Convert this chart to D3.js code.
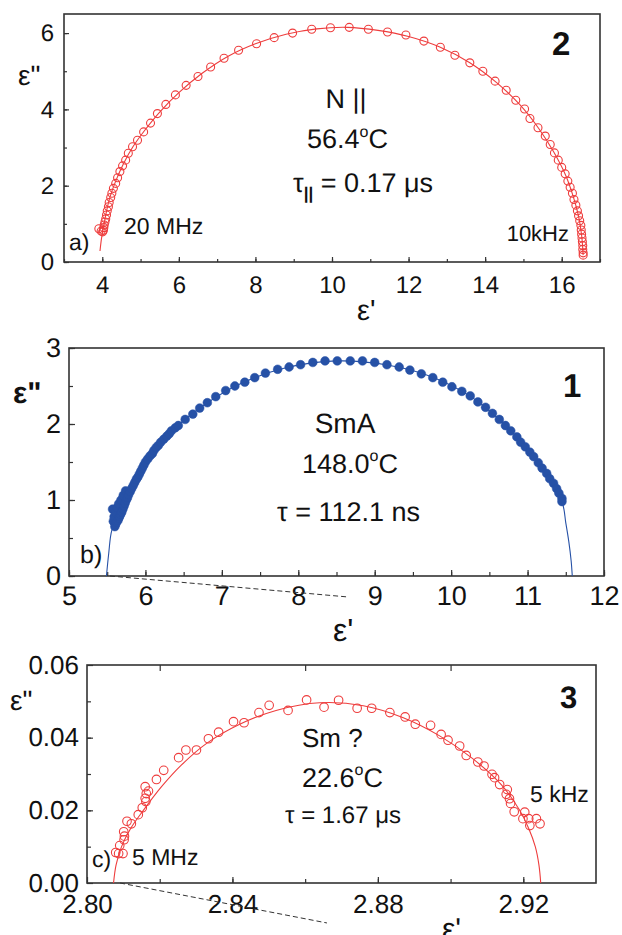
<!DOCTYPE html>
<html>
<head>
<meta charset="utf-8">
<script src="https://cdn.jsdelivr.net/npm/d3@7"></script>
<style>
  html, body { margin: 0; padding: 0; background: #fff; }
  svg { display: block; font-family: "Liberation Sans", Arial, Helvetica, sans-serif; text-rendering: geometricPrecision; }
</style>
</head>
<body>
<svg id="fig" width="622" height="935"></svg>
<script>
// ---------- Panel a: nematic phase (N ||), 56.4 °C ----------
const nematicPoints = [
  [3.91,0.87],[3.97,0.81],[4.01,0.79],[4.03,0.83],[4.04,0.90],[4.05,0.97],[4.07,1.05],[4.09,1.13],
  [4.11,1.23],[4.13,1.34],[4.16,1.45],[4.18,1.56],[4.22,1.69],[4.25,1.80],[4.29,1.93],[4.35,2.06],
  [4.40,2.21],[4.46,2.37],[4.53,2.52],[4.61,2.67],[4.68,2.85],[4.79,3.02],[4.92,3.19],[5.08,3.41],
  [5.26,3.64],[5.44,3.89],[5.66,4.13],[5.91,4.38],[6.19,4.63],[6.50,4.86],[6.83,5.11],[7.18,5.34],
  [7.56,5.55],[8.03,5.72],[8.49,5.88],[8.97,6.00],[9.47,6.10],[9.96,6.14],[10.45,6.15],[10.95,6.10],
  [11.45,6.03],[11.93,5.95],[12.40,5.79],[12.83,5.63],[13.21,5.42],[13.60,5.22],[13.94,5.00],[14.26,4.74],
  [14.55,4.50],[14.80,4.24],[15.03,4.01],[15.17,3.76],[15.38,3.52],[15.57,3.30],[15.70,3.08],[15.81,2.86],
  [15.91,2.67],[16.00,2.48],[16.09,2.31],[16.16,2.12],[16.22,1.96],[16.28,1.80],[16.32,1.64],[16.37,1.49],
  [16.41,1.34],[16.44,1.21],[16.47,1.08],[16.50,0.96],[16.51,0.84],[16.52,0.73],[16.53,0.63],[16.54,0.53],
  [16.55,0.43],[16.55,0.33],[16.56,0.24],[16.56,0.18]
];
const nematicFit = [
  [3.94,0.29],[3.98,0.62],[4.03,0.90],[4.10,1.28],[4.20,1.70],[4.35,2.12],[4.55,2.57],[4.80,3.02],
  [5.10,3.44],[5.50,3.93],[6.00,4.44],[6.60,4.94],[7.30,5.40],[8.00,5.72],[8.80,5.97],[9.60,6.11],
  [10.40,6.15],[11.20,6.07],[12.00,5.91],[12.80,5.64],[13.60,5.22],[14.30,4.70],[14.90,4.13],[15.40,3.50],
  [15.80,2.87],[16.10,2.28],[16.30,1.72],[16.44,1.20],[16.52,0.70],[16.56,0.18]
];

// ---------- Panel b: smectic A phase, 148.0 °C ----------
const smecticAPoints = [
  [5.57,0.88],[5.58,0.72],[5.59,0.78],[5.61,0.84],[5.63,0.90],[5.65,0.95],[5.68,1.00],[5.71,1.06],[5.74,1.12],
  [5.60,0.65],[5.61,0.68],[5.62,0.71],[5.64,0.73],[5.65,0.76],[5.66,0.78],[5.675,0.81],
  [5.69,0.84],[5.705,0.88],[5.72,0.92],[5.735,0.96],[5.75,1.00],[5.765,1.03],[5.78,1.07],[5.80,1.11],
  [5.82,1.15],[5.84,1.19],[5.86,1.23],[5.88,1.27],[5.90,1.30],[5.92,1.34],[5.94,1.38],[5.96,1.42],
  [5.98,1.46],[6.00,1.50],[6.03,1.54],[6.06,1.58],[6.09,1.61],[6.11,1.65],[6.14,1.69],[6.17,1.72],
  [6.20,1.76],[6.24,1.80],[6.28,1.84],[6.31,1.87],[6.34,1.91],[6.39,1.95],[6.43,1.98],[6.52,2.06],
  [6.62,2.13],[6.71,2.21],[6.81,2.28],[6.92,2.36],[7.05,2.44],[7.17,2.50],[7.30,2.55],[7.43,2.61],
  [7.57,2.67],[7.73,2.72],[7.88,2.75],[8.03,2.78],[8.19,2.81],[8.35,2.83],[8.51,2.83],[8.68,2.83],
  [8.84,2.83],[9.00,2.81],[9.16,2.78],[9.32,2.75],[9.46,2.71],[9.61,2.66],[9.76,2.61],[9.89,2.55],
  [10.01,2.49],[10.14,2.43],[10.25,2.37],[10.35,2.29],[10.45,2.22],[10.54,2.14],[10.63,2.06],[10.71,1.98],
  [10.78,1.91],[10.86,1.83],[10.91,1.76],[10.97,1.70],[11.03,1.63],[11.08,1.57],[11.14,1.49],[11.19,1.42],
  [11.25,1.35],[11.29,1.28],[11.34,1.22],[11.38,1.15],[11.41,1.09],[11.45,1.02],[11.45,0.98]
];
const smecticAFit = [
  [5.49,0.00],[5.52,0.30],[5.56,0.60],[5.65,0.80],[5.80,1.10],[6.00,1.48],[6.30,1.86],[6.70,2.20],
  [7.20,2.51],[7.80,2.73],[8.50,2.83],[9.20,2.77],[9.80,2.60],[10.30,2.33],[10.80,1.89],[11.20,1.41],
  [11.45,0.98],[11.50,0.70],[11.54,0.45],[11.57,0.20],[11.585,0.00]
];
const smecticATilt = [[5.536,0],[8.65,-0.276]];

// ---------- Panel c: Sm ? phase, 22.6 °C ----------
const smecticXPoints = [
  [2.8079,0.0084],[2.8087,0.0081],[2.8099,0.0081],[2.8090,0.0103],[2.8102,0.0119],[2.8103,0.0129],
  [2.8101,0.0141],[2.8110,0.0170],[2.8122,0.0163],[2.8141,0.0188],[2.8152,0.0207],[2.8162,0.0224],
  [2.8160,0.0233],[2.8163,0.0246],[2.8169,0.0253],[2.8160,0.0265],[2.8191,0.0285],[2.8211,0.0310],
  [2.8252,0.0345],[2.8272,0.0366],[2.8301,0.0366],[2.8334,0.0397],[2.8362,0.0415],[2.8403,0.0444],
  [2.8432,0.0441],[2.8473,0.0469],[2.8501,0.0489],[2.8553,0.0475],[2.8604,0.0504],[2.8652,0.0484],
  [2.8692,0.0503],[2.8743,0.0481],[2.8783,0.0481],[2.8833,0.0469],[2.8875,0.0457],[2.8903,0.0437],
  [2.8945,0.0434],[2.8974,0.0409],[2.8993,0.0393],[2.9025,0.0377],[2.9043,0.0351],[2.9075,0.0333],
  [2.9092,0.0322],[2.9114,0.0299],[2.9121,0.0290],[2.9135,0.0271],[2.9156,0.0257],[2.9153,0.0244],
  [2.9162,0.0232],[2.9165,0.0219],[2.9175,0.0196],[2.9204,0.0195],[2.9199,0.0177],[2.9215,0.0177],
  [2.9218,0.0158],[2.9236,0.0177],[2.9246,0.0163]
];
const smecticXFit = [
  [2.8073,0.0000],[2.8080,0.0050],[2.8095,0.0100],[2.8120,0.0150],[2.8155,0.0200],[2.8205,0.0265],
  [2.8260,0.0325],[2.8330,0.0385],[2.8420,0.0437],[2.8520,0.0475],[2.8640,0.0496],[2.8760,0.0488],
  [2.8870,0.0455],[2.8970,0.0405],[2.9060,0.0343],[2.9140,0.0270],[2.9190,0.0200],[2.9215,0.0150],
  [2.9233,0.0100],[2.9243,0.0050],[2.9248,0.0000]
];
const smecticXTilt = [[2.8091,0],[2.866,-0.0110]];

// ---------- Axis ticks ----------
const ticksA = { xMajor: [4,6,8,10,12,14,16], xMinor: d3.range(3,18,1), yMajor: [0,2,4,6], yMinor: d3.range(0,7,1) };
const ticksB = { xMajor: [5,6,7,8,9,10,11,12], xMinor: d3.range(5,12.01,0.5), yMajor: [0,1,2,3], yMinor: d3.range(0,3.01,0.5) };
const ticksC = { xMajor: [2.80,2.84,2.88,2.92], xMinor: [2.82,2.84,2.86,2.88,2.90,2.92], xTop: [2.82,2.86,2.90],
                 yMajor: [0,0.02,0.04,0.06], yMinor: [0.01,0.02,0.03,0.04,0.05] };

const RED = "#ee3d3d";
const BLUE = "#2651a6";
const INK = "#111";
const FRAME = "#333";

const svg = d3.select("#fig");

function drawPanel(cfg) {
  const x = d3.scaleLinear().domain(cfg.xDomain).range([cfg.left, cfg.right]);
  const y = d3.scaleLinear().domain(cfg.yDomain).range([cfg.bottom, cfg.top]);
  const g = svg.append("g");
  const clean = sel => sel.select(".domain").remove();

  // minor ticks (inward)
  g.append("g").attr("transform", `translate(0,${cfg.bottom})`)
    .call(d3.axisBottom(x).tickValues(cfg.ticks.xMinor).tickSize(-cfg.minorLen).tickFormat(""))
    .call(clean);
  g.append("g").attr("transform", `translate(${cfg.left},0)`)
    .call(d3.axisLeft(y).tickValues(cfg.ticks.yMinor).tickSize(-cfg.minorLen).tickFormat(""))
    .call(clean);
  if (cfg.ticks.xTop) {
    g.append("g").attr("transform", `translate(0,${cfg.top})`)
      .call(d3.axisTop(x).tickValues(cfg.ticks.xTop).tickSize(-cfg.majorLen).tickFormat(""))
      .call(clean);
  }
  // major ticks + labels
  const xa = g.append("g").attr("transform", `translate(0,${cfg.bottom})`)
    .call(d3.axisBottom(x).tickValues(cfg.ticks.xMajor).tickSize(-cfg.majorLen)
      .tickPadding(cfg.xPad).tickFormat(cfg.fmt))
    .call(clean);
  const ya = g.append("g").attr("transform", `translate(${cfg.left},0)`)
    .call(d3.axisLeft(y).tickValues(cfg.ticks.yMajor).tickSize(-cfg.majorLen)
      .tickPadding(cfg.yPad).tickFormat(cfg.fmt))
    .call(clean);
  [xa, ya].forEach(a => {
    a.selectAll("text").attr("fill", INK).style("font-size", cfg.labelSize + "px")
      .style("font-family", '"Liberation Sans", Arial, sans-serif');
  });
  g.selectAll(".tick line").attr("stroke", FRAME).attr("stroke-width", 1.2);

  // frame
  g.append("rect").attr("x", cfg.left).attr("y", cfg.top)
    .attr("width", cfg.right - cfg.left).attr("height", cfg.bottom - cfg.top)
    .attr("fill", "none").attr("stroke", FRAME).attr("stroke-width", 1.6);

  // tilt line (below the axis, not clipped)
  if (cfg.tilt) {
    g.append("path").datum(cfg.tilt)
      .attr("d", d3.line().x(d => x(d[0])).y(d => y(d[1])))
      .attr("fill", "none").attr("stroke", "#333").attr("stroke-width", 1)
      .attr("stroke-dasharray", "5,3");
  }

  // fit curve
  g.append("path").datum(cfg.fit)
    .attr("d", d3.line().x(d => x(d[0])).y(d => y(d[1])).curve(d3.curveCatmullRom.alpha(0.5)))
    .attr("fill", "none").attr("stroke", cfg.color).attr("stroke-width", 1.1);

  // data points
  g.append("g").selectAll("circle").data(cfg.points).join("circle")
    .attr("cx", d => x(d[0])).attr("cy", d => y(d[1])).attr("r", cfg.r)
    .attr("fill", cfg.filled ? cfg.color : "none")
    .attr("stroke", cfg.color).attr("stroke-width", cfg.filled ? 0.5 : 1.1);

  return { x, y, g };
}

drawPanel({
  left: 64, right: 600, top: 14, bottom: 262,
  xDomain: [3, 17], yDomain: [0, 6.5], ticks: ticksA,
  fmt: d3.format("d"), labelSize: 24, xPad: 14, yPad: 10, majorLen: 5, minorLen: 3,
  points: nematicPoints, fit: nematicFit, color: RED, filled: false, r: 4
});
drawPanel({
  left: 69, right: 604, top: 348, bottom: 576,
  xDomain: [5, 12], yDomain: [0, 3], ticks: ticksB,
  fmt: d3.format("d"), labelSize: 27, xPad: 10, yPad: 8, majorLen: 6, minorLen: 4,
  points: smecticAPoints, fit: smecticAFit, tilt: smecticATilt, color: BLUE, filled: true, r: 4.4
});
drawPanel({
  left: 87, right: 596, top: 665, bottom: 883,
  xDomain: [2.80, 2.94], yDomain: [0, 0.06], ticks: ticksC,
  fmt: d3.format(".2f"), labelSize: 26, xPad: 12, yPad: 8, majorLen: 6, minorLen: 4,
  points: smecticXPoints, fit: smecticXFit, tilt: smecticXTilt, color: RED, filled: false, r: 4.3
});

// ---------- Text ----------
function label(x, y, parts, opts = {}) {
  const t = svg.append("text").attr("x", x).attr("y", y).attr("fill", INK)
    .attr("text-anchor", opts.anchor || "start")
    .style("font-size", (opts.size || 22) + "px")
    .style("font-weight", opts.bold ? "bold" : "normal");
  (Array.isArray(parts) ? parts : [[parts]]).forEach(p => {
    const s = t.append("tspan").attr("fill", INK).text(p[0]);
    if (p[1]) s.style("font-size", p[1] + "px");
    if (p[2]) s.attr("dy", p[2]);
    if (p[3]) s.style("font-weight", p[3]);
  });
  return t;
}

// panel a
label(18, 85, 'ε"', { size: 28 });
label(357, 320, "ε'", { size: 29 });
label(552, 55, "2", { size: 33, bold: true });
label(346, 108, "N ||", { size: 27, anchor: "middle" });
label(307, 148, [["56.4"], ["o", 16, -11], ["C", null, 11]], { size: 27 });
label(293, 192, [["τ"], ["||", 17, 7, "bold"], [" = 0.17 μs", null, -7]], { size: 27 });
label(124, 234, "20 MHz", { size: 23 });
label(569, 241, "10kHz", { size: 22, anchor: "end" });
label(69, 250, "a)", { size: 23 });

// panel b
label(13, 403, 'ε"', { size: 30, bold: true });
label(333, 641, "ε'", { size: 32 });
label(563, 397, "1", { size: 33, bold: true });
label(345, 433, "SmA", { size: 28, anchor: "middle" });
label(302, 473, [["148.0"], ["o", 16, -12], ["C", null, 12]], { size: 27 });
label(277, 521, "τ = 112.1 ns", { size: 27 });
label(80, 563, "b)", { size: 25 });

// panel c
label(10, 710, 'ε"', { size: 28 });
label(442, 939, "ε'", { size: 30 });
label(560, 708, "3", { size: 31, bold: true });
label(302, 747, "Sm ?", { size: 26 });
label(302, 787, [["22.6"], ["o", 16, -12], ["C", null, 12]], { size: 27 });
label(285, 823, "τ = 1.67 μs", { size: 24 });
label(530, 802, "5 kHz", { size: 23 });
label(92, 867, "c)", { size: 23 });
label(132, 865, "5 MHz", { size: 23 });
</script>
</body>
</html>
